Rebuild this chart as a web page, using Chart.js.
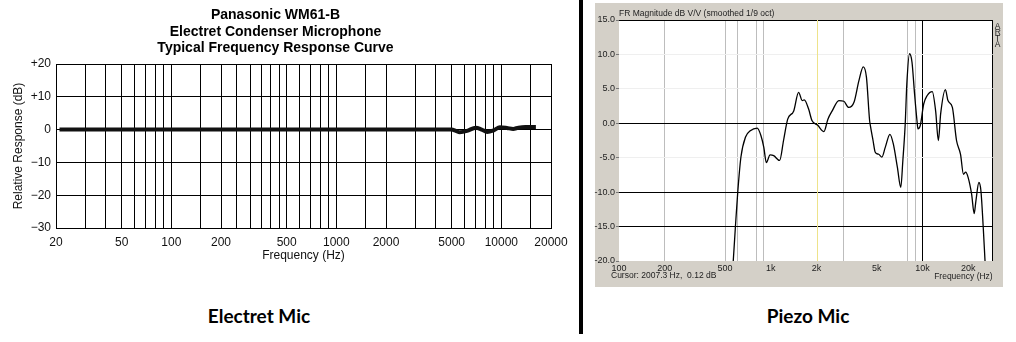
<!DOCTYPE html>
<html>
<head>
<meta charset="utf-8">
<script src="https://cdn.jsdelivr.net/npm/chart.js@4.4.0/dist/chart.umd.min.js"></script>
<style>
  body { margin: 0; width: 1016px; height: 342px; background: #fff; position: relative; overflow: hidden; }
  canvas { position: absolute; }
  #grafikElectret { left: 0; top: 0; }
  #grafikPiezo { left: 588px; top: 3px; }
  .divider { position: absolute; left: 579px; top: 0; width: 4px; height: 334px; background: #000; }
  .caption { position: absolute; top: 304px; font: bold 19px Lato, "Open Sans", sans-serif; color: #000; transform: translateX(-50%); white-space: nowrap; }
</style>
</head>
<body>
<canvas id="grafikElectret" width="607" height="270"></canvas>
<canvas id="grafikPiezo" width="415" height="284"></canvas>
<div class="divider"></div>
<div class="caption" style="left:259px">Electret Mic</div>
<div class="caption" style="left:808px">Piezo Mic</div>
<script>
// Electret mic (Panasonic WM61-B)
const electretFreq = [21, 100, 1000, 4500, 5000, 5300, 5600, 6200, 7000, 7600, 8200, 9000, 9800, 10800, 11800, 12700, 14000, 16200];
const electretDb = [0, 0, 0, 0, 0, -0.4, -0.8, -0.4, 0.6, 0.0, -0.7, -0.2, 0.7, 0.5, 0.2, 0.6, 0.8, 0.8];
const electretGrid = [20, 30, 40, 50, 60, 70, 80, 90, 100, 150, 200, 250, 300, 350, 400, 450, 500, 600, 700, 800, 900,
  1000, 1500, 2000, 3000, 4000, 5000, 6000, 7000, 8000, 9000, 10000, 15000, 20000];
const electretLabels = [20, 50, 100, 200, 500, 1000, 2000, 5000, 10000, 20000];

// Piezo mic - ARTA measurement, smoothed 1/9 oct
const piezoFreq = [566, 585, 606, 636, 682, 733, 814, 862, 900, 935, 990, 1045, 1144, 1214, 1293, 1417, 1525, 1612, 1662, 1774,
  1868, 2040, 2240, 2380, 2540, 2810, 3030, 3260, 3540, 3810, 4070, 4270, 4480, 4530, 4720, 4880, 5140, 5400, 5680, 6100,
  6420, 6830, 7190, 7420, 7690, 7880, 8210, 8520, 8860, 9190, 9330, 9670, 10180, 10710, 11590, 12200, 12720, 13170, 14150, 14710,
  15730, 16750, 17800, 18610, 19250, 19990, 21060, 21900, 22470, 23520, 24250, 25120, 25810];
const piezoDb = [-20, -15, -10, -4.9, -2.0, -1.1, -0.7, -1.8, -3.5, -5.7, -4.6, -4.7, -5.4, -2.5, 0.6, 1.8, 4.5, 3.3, 3.4, 2.1,
  0.4, -0.3, -1.2, 0.6, 1.8, 3.3, 3.2, 2.3, 3.1, 6.2, 8.2, 6.7, 0.4, -0.3, -2.5, -4.2, -4.5, -4.9, -3.5, -1.6,
  -3.0, -6.4, -9.3, -5.4, -0.1, 5.7, 10.1, 8.9, 4.3, 0.4, -0.8, -0.3, 2.8, 4.0, 4.6, 1.8, -2.5, 1.4, 4.9, 3.3,
  2.3, -2.5, -4.5, -7.4, -7.1, -7.9, -10.3, -13.1, -11.3, -8.6, -9.8, -15.1, -20];
const piezoLabels = [100, 200, 500, 1000, 2000, 5000, 10000, 20000];
const piezoGrayGrid = [200, 500, 600, 800, 900, 3000, 8000, 9000];
const piezoBlackGrid = [10000, 29000];
const piezoBlackRows = [15, 0, -10, -15];
const piezoFaintRows = [10, 5, -5];
const cursorFreq = 2007.3;
const cursorText = 'Cursor: 2007.3 Hz,  0.12 dB';

const arial = "'Liberation Sans', Arial, Helvetica, sans-serif";

// Grafik Electret
const ctxElectret = document.getElementById('grafikElectret');
let grafikElectret = new Chart(ctxElectret, {
  type: 'line',
  data: {
    datasets: [{
      data: electretFreq.map((f, i) => ({x: f, y: electretDb[i]})),
      borderColor: '#111',
      borderWidth: 4,
      pointRadius: 0,
      cubicInterpolationMode: 'monotone'
    }]
  },
  options: {
    responsive: false,
    animation: false,
    devicePixelRatio: 1,
    layout: {padding: {left: 0, right: 56, top: 0, bottom: 0}},
    plugins: {
      legend: {display: false},
      tooltip: {enabled: false},
      title: {
        display: true,
        text: ['Panasonic WM61-B', 'Electret Condenser Microphone', 'Typical Frequency Response Curve'],
        color: '#000',
        font: {family: arial, size: 14, weight: 'bold', lineHeight: 1.2},
        padding: {top: 6.6, bottom: 7}
      }
    },
    scales: {
      x: {
        type: 'logarithmic',
        min: 20,
        max: 20000,
        afterFit: s => { s.height = 42; },
        afterBuildTicks: s => { s.ticks = electretGrid.map(v => ({value: v})); },
        grid: {color: '#000', lineWidth: 1, drawTicks: false},
        border: {color: '#000'},
        ticks: {
          autoSkip: false, maxRotation: 0, minRotation: 0, padding: 7,
          color: '#111', font: {family: arial, size: 12},
          callback: v => electretLabels.includes(v) ? String(v) : ''
        },
        title: {display: true, text: 'Frequency (Hz)', color: '#111', font: {family: arial, size: 12}, padding: {top: 0, bottom: 7}}
      },
      y: {
        min: -30,
        max: 20,
        afterFit: s => { s.width = 56; },
        grid: {color: '#000', lineWidth: 1, drawTicks: false},
        border: {color: '#000'},
        ticks: {
          stepSize: 10, padding: 5, color: '#111', font: {family: arial, size: 12},
          callback: v => v > 0 ? '+' + v : (v < 0 ? '\u2212' + Math.abs(v) : '0')
        },
        title: {display: true, text: 'Relative Response (dB)', color: '#111', font: {family: arial, size: 12}, padding: {top: 11, bottom: 0}}
      }
    }
  }
});

// ARTA window background, cursor and readout texts
const artaDecor = {
  id: 'artaDecor',
  beforeDraw(chart) {
    const {ctx, chartArea: a} = chart;
    ctx.save();
    ctx.fillStyle = '#d4d0c8';
    ctx.fillRect(7, 0, chart.width - 7, chart.height);
    ctx.fillStyle = '#fff';
    ctx.fillRect(a.left, a.top, a.right - a.left, a.bottom - a.top);
    ctx.restore();
  },
  beforeDatasetsDraw(chart) {
    const {ctx, chartArea: a, scales: {x}} = chart;
    const px = Math.round(x.getPixelForValue(cursorFreq)) + 0.5;
    ctx.save();
    ctx.strokeStyle = '#eee38a';
    ctx.lineWidth = 1;
    ctx.beginPath();
    ctx.moveTo(px, a.top);
    ctx.lineTo(px, a.bottom);
    ctx.stroke();
    ctx.restore();
  },
  afterDraw(chart) {
    const {ctx, chartArea: a} = chart;
    ctx.save();
    ctx.fillStyle = '#222';
    ctx.font = '8.5px ' + arial;
    ctx.textBaseline = 'middle';
    ctx.textAlign = 'left';
    ctx.fillText(cursorText, 23, 273);
    ctx.textAlign = 'center';
    'ARTA'.split('').forEach((c, i) => ctx.fillText(c, a.right + 5, a.top + 7 + i * 6));
    ctx.restore();
  }
};

// Grafik Piezo
const ctxPiezo = document.getElementById('grafikPiezo');
let grafikPiezo = new Chart(ctxPiezo, {
  type: 'line',
  data: {
    datasets: [{
      data: piezoFreq.map((f, i) => ({x: f, y: piezoDb[i]})),
      borderColor: '#000',
      borderWidth: 1.3,
      pointRadius: 0,
      cubicInterpolationMode: 'monotone'
    }]
  },
  plugins: [artaDecor],
  options: {
    responsive: false,
    animation: false,
    devicePixelRatio: 1,
    layout: {padding: {left: 0, right: 10.3, top: 0, bottom: 0}},
    plugins: {
      legend: {display: false},
      tooltip: {enabled: false},
      title: {
        display: true,
        text: 'FR Magnitude dB V/V (smoothed 1/9 oct)',
        align: 'start',
        fullSize: false,
        color: '#222',
        font: {family: arial, size: 8.5, weight: 'normal', lineHeight: 1.2},
        padding: {top: 6, bottom: 0.8}
      }
    },
    scales: {
      x: {
        type: 'logarithmic',
        min: 100,
        max: 29000,
        afterFit: s => { s.height = 26; },
        afterBuildTicks: s => {
          const vals = [...new Set([...piezoLabels, ...piezoGrayGrid, ...piezoBlackGrid])].sort((p, q) => p - q);
          s.ticks = vals.map(v => ({value: v}));
        },
        grid: {
          drawTicks: false,
          lineWidth: 1,
          color: c => piezoBlackGrid.includes(c.tick.value) ? '#000' : (piezoGrayGrid.includes(c.tick.value) ? '#bdbdbd' : 'rgba(0,0,0,0)')
        },
        border: {display: false},
        ticks: {
          autoSkip: false, maxRotation: 0, minRotation: 0, padding: 2,
          color: '#222', font: {family: arial, size: 9},
          callback: v => piezoLabels.includes(v) ? (v >= 1000 ? (v / 1000) + 'k' : String(v)) : ''
        },
        title: {display: true, text: 'Frequency (Hz)', align: 'end', color: '#222', font: {family: arial, size: 8.5}, padding: {top: 0, bottom: 5.7}}
      },
      y: {
        min: -20,
        max: 15,
        afterFit: s => { s.width = 31; },
        grid: {
          lineWidth: 1,
          tickLength: 3,
          tickColor: '#777',
          color: c => piezoBlackRows.includes(c.tick.value) ? '#000' : (piezoFaintRows.includes(c.tick.value) ? '#efefef' : 'rgba(0,0,0,0)')
        },
        border: {display: false},
        ticks: {
          stepSize: 5, padding: 1, color: '#222', font: {family: arial, size: 9},
          callback: v => v.toFixed(1)
        }
      }
    }
  }
});
</script>
</body>
</html>
